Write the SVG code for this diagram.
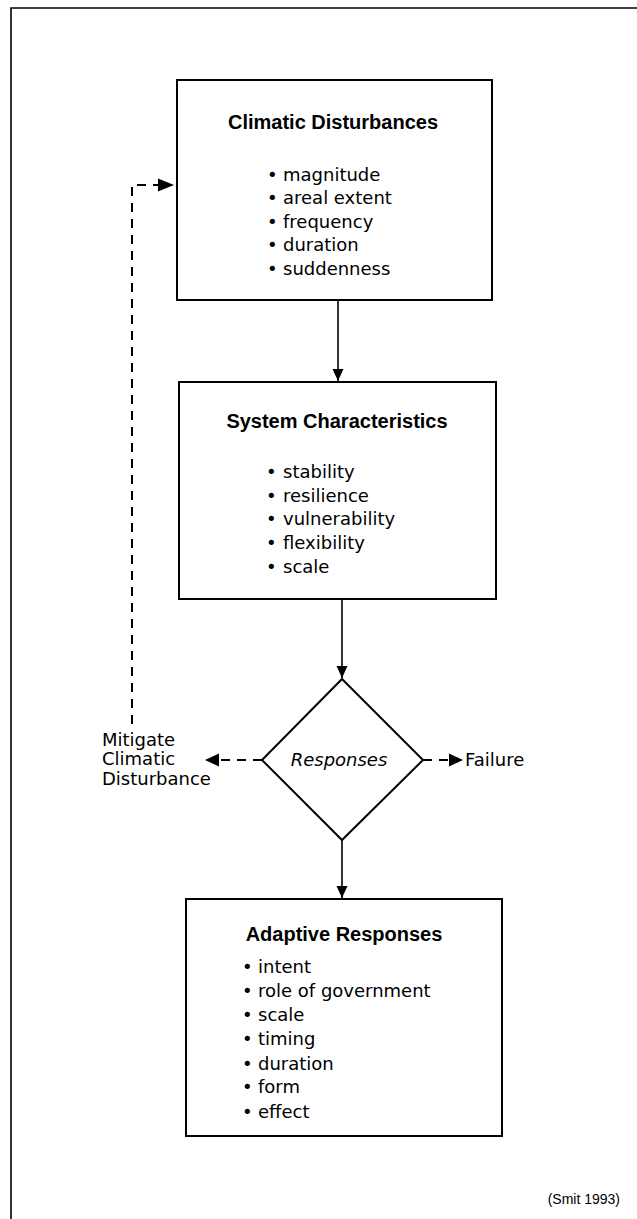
<svg xmlns="http://www.w3.org/2000/svg" width="637" height="1219" viewBox="0 0 637 1219">
<style>
.box{fill:#fff;stroke:#000;stroke-width:2}
.title{font-family:"Liberation Sans",Arial,sans-serif;font-weight:bold;font-size:20px;fill:#000}
.item{font-family:"DejaVu Sans",sans-serif;font-size:18px;fill:#000}
.lbl{font-family:"DejaVu Sans",sans-serif;font-size:18px;fill:#000}
.solid{stroke:#000;stroke-width:1.6;fill:none}
.dash{stroke:#000;stroke-width:2;fill:none;stroke-dasharray:9 7}
</style>
<defs>
<marker id="ah" markerWidth="12" markerHeight="12" refX="12" refY="6" orient="auto" markerUnits="userSpaceOnUse">
<path d="M0,0.5 L12,6 L0,11.5 Z" fill="#000"/>
</marker>
</defs>
<rect width="637" height="1219" fill="#fff"/>
<g id="frame">
<path d="M11,1219 L11,8 L637,8" stroke="#000" stroke-width="1.6" fill="none"/>
</g>
<g id="connectors">
<line class="solid" x1="338" y1="300" x2="338" y2="381" marker-end="url(#ah)"/>
<line class="solid" x1="342" y1="599" x2="342" y2="678" marker-end="url(#ah)"/>
<line class="solid" x1="342" y1="840" x2="342" y2="898" marker-end="url(#ah)"/>
<path class="dash" d="M132,724 L132,185 L158,185"/>
<path d="M158,178.5 L174,185 L158,191.5 Z" fill="#000"/>
<line class="dash" x1="262" y1="760" x2="218" y2="760"/>
<path d="M219,753.5 L205,760 L219,766.5 Z" fill="#000"/>
<line class="dash" x1="423" y1="760" x2="450" y2="760"/>
<path d="M449,753.5 L463,760 L449,766.5 Z" fill="#000"/>
</g>
<g id="climatic-disturbances">
<rect class="box" x="177" y="80" width="315" height="220"/>
<text class="title" x="333" y="129" text-anchor="middle">Climatic Disturbances</text>
<text class="item"><tspan x="267" y="181">•</tspan><tspan x="283" y="181">magnitude</tspan></text>
<text class="item"><tspan x="267" y="204">•</tspan><tspan x="283" y="204">areal extent</tspan></text>
<text class="item"><tspan x="267" y="228">•</tspan><tspan x="283" y="228">frequency</tspan></text>
<text class="item"><tspan x="267" y="251">•</tspan><tspan x="283" y="251">duration</tspan></text>
<text class="item"><tspan x="267" y="275">•</tspan><tspan x="283" y="275">suddenness</tspan></text>
</g>
<g id="system-characteristics">
<rect class="box" x="179" y="382" width="317" height="217"/>
<text class="title" x="337" y="428" text-anchor="middle">System Characteristics</text>
<text class="item"><tspan x="266" y="478">•</tspan><tspan x="283" y="478">stability</tspan></text>
<text class="item"><tspan x="266" y="502">•</tspan><tspan x="283" y="502">resilience</tspan></text>
<text class="item"><tspan x="266" y="525">•</tspan><tspan x="283" y="525">vulnerability</tspan></text>
<text class="item"><tspan x="266" y="549">•</tspan><tspan x="283" y="549">flexibility</tspan></text>
<text class="item"><tspan x="266" y="573">•</tspan><tspan x="283" y="573">scale</tspan></text>
</g>
<g id="responses">
<polygon points="342,679 423,760 342,840 262,760" fill="#fff" stroke="#000" stroke-width="2"/>
<text class="lbl" x="339" y="766" text-anchor="middle" font-style="italic">Responses</text>
</g>
<g id="mitigate">
<text class="lbl" x="102" y="746">Mitigate</text>
<text class="lbl" x="102" y="765">Climatic</text>
<text class="lbl" x="102" y="785">Disturbance</text>
</g>
<g id="failure">
<text class="lbl" x="465" y="766">Failure</text>
</g>
<g id="adaptive-responses">
<rect class="box" x="186" y="899" width="316" height="237"/>
<text class="title" x="344" y="941" text-anchor="middle">Adaptive Responses</text>
<text class="item"><tspan x="242" y="973">•</tspan><tspan x="258" y="973">intent</tspan></text>
<text class="item"><tspan x="242" y="997">•</tspan><tspan x="258" y="997">role of government</tspan></text>
<text class="item"><tspan x="242" y="1021">•</tspan><tspan x="258" y="1021">scale</tspan></text>
<text class="item"><tspan x="242" y="1045">•</tspan><tspan x="258" y="1045">timing</tspan></text>
<text class="item"><tspan x="242" y="1070">•</tspan><tspan x="258" y="1070">duration</tspan></text>
<text class="item"><tspan x="242" y="1093">•</tspan><tspan x="258" y="1093">form</tspan></text>
<text class="item"><tspan x="242" y="1118">•</tspan><tspan x="258" y="1118">effect</tspan></text>
</g>
<text x="620" y="1204" text-anchor="end" font-family="Liberation Sans,Arial,sans-serif" font-size="14">(Smit 1993)</text>
</svg>
